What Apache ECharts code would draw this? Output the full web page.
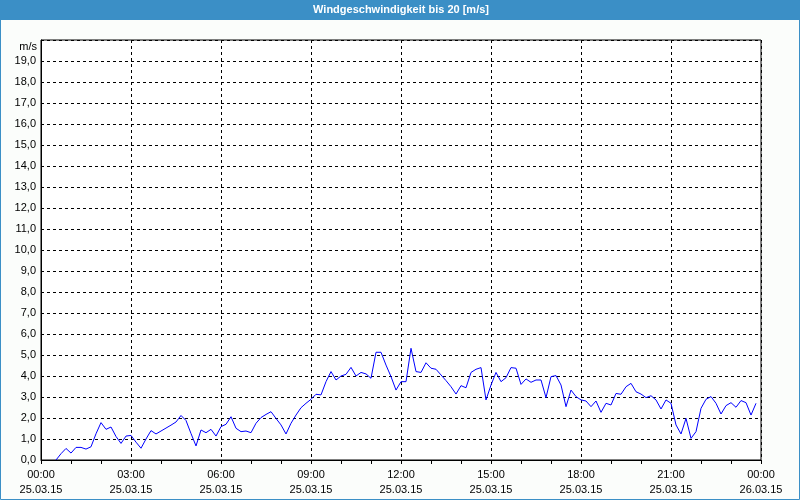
<!DOCTYPE html>
<html><head><meta charset="utf-8">
<script src="https://cdn.jsdelivr.net/npm/echarts@6/dist/echarts.min.js"></script>
<style>html,body{margin:0;padding:0;background:#fbfdfb}#c{width:800px;height:500px}</style>
</head><body><div id="c"></div>
<script>
const chartTitle = 'Windgeschwindigkeit bis 20 [m/s]';
const unitLabel = 'm/s';
// measurements every 10 minutes, first at 00:30
const startHour = 0.5;
const stepHours = 1 / 6;
const windSpeed = [
  0.0, 0.3, 0.55, 0.33, 0.6, 0.6, 0.52, 0.63, 1.25, 1.78,
  1.46, 1.57, 1.12, 0.79, 1.14, 1.17, 0.85, 0.56, 1.0, 1.40,
  1.24, 1.38, 1.52, 1.66, 1.81, 2.12, 1.88, 1.26, 0.67, 1.43,
  1.30, 1.46, 1.14, 1.59, 1.70, 2.06, 1.51, 1.35, 1.38, 1.30,
  1.75, 2.02, 2.17, 2.30, 1.98, 1.67, 1.24, 1.75, 2.14, 2.49,
  2.70, 2.89, 3.13, 3.10, 3.73, 4.21, 3.81, 4.00, 4.08, 4.41,
  4.00, 4.17, 4.10, 3.89, 5.13, 5.13, 4.52, 3.97, 3.33, 3.73,
  3.73, 5.32, 4.21, 4.17, 4.63, 4.37, 4.32, 4.05, 3.78, 3.49,
  3.14, 3.54, 3.44, 4.17, 4.32, 4.40, 2.86, 3.57, 4.17, 3.73,
  3.92, 4.40, 4.37, 3.60, 3.86, 3.70, 3.81, 3.81, 2.97, 3.97,
  4.02, 3.57, 2.54, 3.33, 3.02, 2.86, 2.81, 2.54, 2.81, 2.27,
  2.70, 2.62, 3.17, 3.13, 3.49, 3.65, 3.25, 3.14, 2.97, 3.06,
  2.86, 2.43, 2.86, 2.70, 1.67, 1.24, 1.98, 1.03, 1.35, 2.46,
  2.89, 3.02, 2.70, 2.19, 2.59, 2.73, 2.51, 2.83, 2.73, 2.14,
  2.70
];
const xTickTimes = ['00:00','03:00','06:00','09:00','12:00','15:00','18:00','21:00','00:00'];
const xTickDates = ['25.03.15','25.03.15','25.03.15','25.03.15','25.03.15','25.03.15','25.03.15','25.03.15','26.03.15'];

const seriesData = windSpeed.map((v, i) => [startHour + i * stepHours, v]);
const font = '"Liberation Sans", Arial, sans-serif';
const chart = echarts.init(document.getElementById('c'), null, {renderer: 'canvas'});
chart.setOption({
  animation: false,
  backgroundColor: '#fbfdfb',
  grid: {left: 41, right: 39, top: 40, bottom: 40, show: true, backgroundColor: '#ffffff', borderColor: '#000', borderWidth: 1},
  graphic: [
    {type: 'rect', z: -10, shape: {x: 0, y: 0, width: 800, height: 20}, style: {fill: '#3b8fc6'}},
    {type: 'rect', z: -10, shape: {x: 0.5, y: 0.5, width: 799, height: 499}, style: {fill: null, stroke: '#3b8fc6', lineWidth: 1}},
    {type: 'text', z: 10, x: 401, y: 10, style: {text: chartTitle, fill: '#ffffff', font: 'bold 11px ' + font, textAlign: 'center', textVerticalAlign: 'middle'}},
    {type: 'text', z: 10, x: 37, y: 47, style: {text: unitLabel, fill: '#000', font: '11px ' + font, textAlign: 'right', textVerticalAlign: 'middle'}}
  ],
  xAxis: {
    type: 'value', min: 0, max: 24, interval: 3,
    axisLine: {show: true, lineStyle: {color: '#000', width: 1}},
    axisTick: {show: true, length: 4, lineStyle: {color: '#000'}},
    minorTick: {show: true, splitNumber: 3, length: 4, lineStyle: {color: '#000'}},
    splitLine: {show: true, lineStyle: {color: '#000', type: [3, 3], width: 1}},
    axisLabel: {
      color: '#000', fontFamily: font, fontSize: 11, lineHeight: 15, margin: 7,
      formatter: v => { const k = Math.round(v / 3); return xTickTimes[k] + '\n' + xTickDates[k]; }
    }
  },
  yAxis: {
    type: 'value', min: 0, max: 20, interval: 1,
    axisLine: {show: true, lineStyle: {color: '#000', width: 1}},
    axisTick: {show: false},
    splitLine: {show: true, lineStyle: {color: '#000', type: [3, 3], width: 1}},
    axisLabel: {
      color: '#000', fontFamily: font, fontSize: 11, margin: 5,
      formatter: v => v >= 20 ? '' : v.toFixed(1).replace('.', ',')
    }
  },
  series: [{
    type: 'line', data: seriesData, showSymbol: false, symbol: 'none',
    lineStyle: {color: '#0000ff', width: 1}, itemStyle: {color: '#0000ff'}
  }]
});
</script></body></html>
